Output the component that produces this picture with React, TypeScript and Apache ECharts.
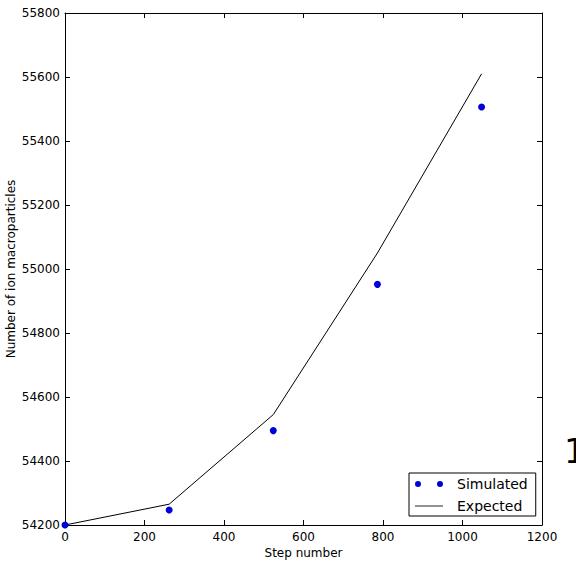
import React, { useEffect, useRef } from "react";
import * as echarts from "echarts";

const steps = [0, 262, 524, 786, 1048];
const simulated = [54200, 54247, 54495, 54952, 55506];
const expected = [54200, 54265, 54545, 55050, 55610];
const xTicks = [0, 200, 400, 600, 800, 1000, 1200];
const yTicks = [54200, 54400, 54600, 54800, 55000, 55200, 55400, 55600, 55800];

const FONT = "DejaVu Sans";

export default function App() {
  const ref = useRef<HTMLDivElement>(null);
  useEffect(() => {
    if (!ref.current) return;
    const chart = echarts.init(ref.current, null, { renderer: "svg" });
    const axisCommon = {
      axisLine: { show: true, onZero: false, lineStyle: { color: "#000", width: 1 } },
      axisTick: { show: true, inside: true, length: 5, lineStyle: { color: "#000", width: 1 } },
      splitLine: { show: false },
    };
    const fmt = (v: number) => String(v);
    chart.setOption({
      animation: false,
      backgroundColor: "#fff",
      grid: { left: 65, right: 34, top: 13, bottom: 36, containLabel: false, outerBoundsMode: "none" },
      xAxis: [
        {
          type: "value",
          position: "bottom",
          min: xTicks[0],
          max: xTicks[xTicks.length - 1],
          interval: 200,
          name: "Step number",
          nameLocation: "middle",
          nameGap: 22,
          nameMoveOverlap: false,
          nameTextStyle: { fontFamily: FONT, fontSize: 12, color: "#000" },
          axisLabel: { fontFamily: FONT, fontSize: 12, color: "#000", margin: 6, formatter: fmt },
          ...axisCommon,
        },
        {
          type: "value",
          position: "top",
          min: xTicks[0],
          max: xTicks[xTicks.length - 1],
          interval: 200,
          axisLabel: { show: false },
          ...axisCommon,
        },
      ],
      yAxis: [
        {
          type: "value",
          position: "left",
          min: yTicks[0],
          max: yTicks[yTicks.length - 1],
          interval: 200,
          name: "Number of ion macroparticles",
          nameLocation: "middle",
          nameGap: 48,
          nameMoveOverlap: false,
          nameTextStyle: { fontFamily: FONT, fontSize: 12, color: "#000" },
          axisLabel: { fontFamily: FONT, fontSize: 12, color: "#000", margin: 5, formatter: fmt },
          ...axisCommon,
        },
        {
          type: "value",
          position: "right",
          min: yTicks[0],
          max: yTicks[yTicks.length - 1],
          interval: 200,
          axisLabel: { show: false },
          ...axisCommon,
        },
      ],
      legend: {
        orient: "vertical",
        left: 409,
        top: 473,
        padding: [3, 8, 2, 6],
        itemGap: 6,
        itemWidth: 28,
        itemHeight: 8,
        borderColor: "#000",
        borderWidth: 1,
        backgroundColor: "#fff",
        textStyle: { fontFamily: FONT, fontSize: 14, color: "#000", lineHeight: 16, padding: [0, 0, 0, 9] },
        data: [
          {
            name: "Simulated",
            icon: "path://M0,3a3,3 0 1,0 6,0a3,3 0 1,0 -6,0zM22,3a3,3 0 1,0 6,0a3,3 0 1,0 -6,0z",
            itemStyle: { color: "#0000dd", opacity: 1 },
          },
          {
            name: "Expected",
            icon: "path://M0,0h28v1h-28z",
            itemStyle: { color: "#222" },
          },
        ],
      },
      graphic: [
        {
          type: "text",
          x: 564,
          y: 451,
          style: {
            text: "1",
            fontFamily: FONT,
            fontSize: 34,
            fill: "#000",
            verticalAlign: "middle",
            align: "left",
          },
        },
      ],
      series: [
        {
          name: "Simulated",
          type: "scatter",
          xAxisIndex: 0,
          yAxisIndex: 0,
          symbol: "circle",
          symbolSize: 7,
          itemStyle: { color: "#0000dd", opacity: 1 },
          data: steps.map((s, i) => [s, simulated[i]]),
          z: 3,
        },
        {
          name: "Expected",
          type: "line",
          xAxisIndex: 0,
          yAxisIndex: 0,
          showSymbol: false,
          symbol: "none",
          lineStyle: { color: "#000", width: 1 },
          itemStyle: { color: "#000" },
          data: steps.map((s, i) => [s, expected[i]]),
          z: 2,
        },
      ],
    });
    return () => chart.dispose();
  }, []);
  return <div ref={ref} style={{ width: 576, height: 561, position: "absolute", left: 0, top: 0 }} />;
}
